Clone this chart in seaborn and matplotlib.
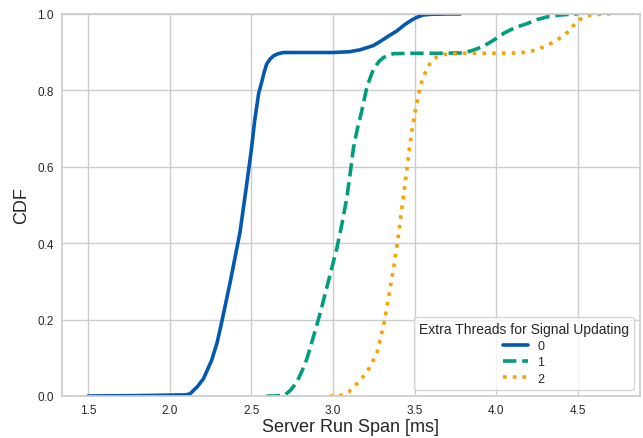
import matplotlib
matplotlib.use("Agg")
import matplotlib.pyplot as plt
import seaborn as sns
import pandas as pd

# ---- data (CDF curves) ----
x_t0 = [1.50, 1.80, 2.10, 2.125, 2.17, 2.206, 2.256, 2.29, 2.318, 2.37, 2.43, 2.47, 2.50, 2.52,
        2.545, 2.563, 2.58, 2.594, 2.615, 2.635, 2.665, 2.696, 2.80, 2.90, 3.00, 3.10, 3.166,
        3.247, 3.29, 3.34, 3.39, 3.44, 3.49, 3.52, 3.55, 3.60, 3.70, 3.78]
y_t0 = [0.0, 0.001, 0.003, 0.006, 0.025, 0.045, 0.093, 0.14, 0.193, 0.298, 0.428, 0.55, 0.645, 0.72,
        0.793, 0.821, 0.85, 0.869, 0.882, 0.89, 0.896, 0.899, 0.899, 0.899, 0.899, 0.901, 0.906,
        0.917, 0.928, 0.942, 0.955, 0.972, 0.986, 0.992, 0.997, 0.999, 1.0, 1.0]

x_t1 = [2.594, 2.65, 2.706, 2.74, 2.778, 2.81, 2.84, 2.87, 2.90, 2.93, 2.96, 2.99, 3.023, 3.055,
        3.084, 3.105, 3.125, 3.15, 3.176, 3.209, 3.247, 3.283, 3.31, 3.37, 3.50, 3.65, 3.80,
        3.86, 3.92, 3.98, 4.05, 4.12, 4.186, 4.25, 4.32, 4.39, 4.45, 4.50]
y_t1 = [0.0, 0.0, 0.003, 0.015, 0.036, 0.065, 0.097, 0.14, 0.184, 0.23, 0.28, 0.33, 0.385, 0.45,
        0.516, 0.58, 0.647, 0.70, 0.745, 0.81, 0.854, 0.876, 0.886, 0.896, 0.897, 0.897, 0.898,
        0.905, 0.915, 0.93, 0.95, 0.965, 0.974, 0.985, 0.993, 0.997, 0.999, 1.0]

x_t2 = [2.98, 3.03, 3.064, 3.095, 3.125, 3.165, 3.207, 3.24, 3.27, 3.29, 3.31, 3.33, 3.35, 3.37,
        3.39, 3.41, 3.43, 3.45, 3.468, 3.485, 3.51, 3.535, 3.555, 3.573, 3.60, 3.635, 3.68, 3.80,
        4.00, 4.145, 4.20, 4.247, 4.31, 4.36, 4.40, 4.45, 4.49, 4.53, 4.58, 4.64, 4.70]
y_t2 = [0.0, 0.0, 0.003, 0.01, 0.023, 0.04, 0.062, 0.087, 0.114, 0.147, 0.184, 0.23, 0.28, 0.33,
        0.385, 0.45, 0.516, 0.58, 0.647, 0.697, 0.758, 0.81, 0.835, 0.854, 0.874, 0.887, 0.894,
        0.897, 0.897, 0.898, 0.901, 0.906, 0.917, 0.928, 0.939, 0.956, 0.978, 0.99, 0.997, 0.999, 1.0]

series_names = ["0", "1", "2"]
legend_title = "Extra Threads for Signal Updating"
x_label = "Server Run Span [ms]"
y_label = "CDF"

frames = []
for name, xs, ys in zip(series_names, [x_t0, x_t1, x_t2], [y_t0, y_t1, y_t2]):
    frames.append(pd.DataFrame({"x": xs, "cdf": ys, "threads": name}))
df = pd.concat(frames, ignore_index=True)

sns.set_theme(style="whitegrid")
plt.rcParams["font.family"] = ["Liberation Sans", "DejaVu Sans"]

fig = plt.figure(figsize=(6.43, 4.39), dpi=100)
ax = fig.add_axes([0.0964, 0.0957, 0.8986, 0.8703])

palette = {"0": "#0558b0", "1": "#009e7f", "2": "#f5a300"}
dashes = {"0": "", "1": (3.7, 1.6), "2": (1, 1.7)}
sns.lineplot(data=df, x="x", y="cdf", hue="threads", style="threads",
             palette=palette, dashes=dashes, linewidth=2.6, ax=ax, estimator=None)

ax.set_xlim(1.339, 4.881)
ax.set_ylim(0, 1.0)
ax.set_xticks([1.5, 2.0, 2.5, 3.0, 3.5, 4.0, 4.5])
ax.set_yticks([0.0, 0.2, 0.4, 0.6, 0.8, 1.0])
ax.tick_params(axis="both", labelsize=8.5, colors="#262626", pad=0)
ax.set_xlabel(x_label, fontsize=13, color="#262626", labelpad=1)
ax.set_ylabel(y_label, fontsize=13, color="#262626", labelpad=5)
for s in ax.spines.values():
    s.set_color("#cccccc")

handles, labels = ax.get_legend_handles_labels()
leg = ax.legend(handles, labels, title=legend_title, loc="lower right",
                fontsize=9, title_fontsize=10, frameon=True, borderaxespad=0.5,
                labelspacing=0.35)
leg.get_frame().set_edgecolor("#cccccc")

fig.savefig("out.png", dpi=100)
